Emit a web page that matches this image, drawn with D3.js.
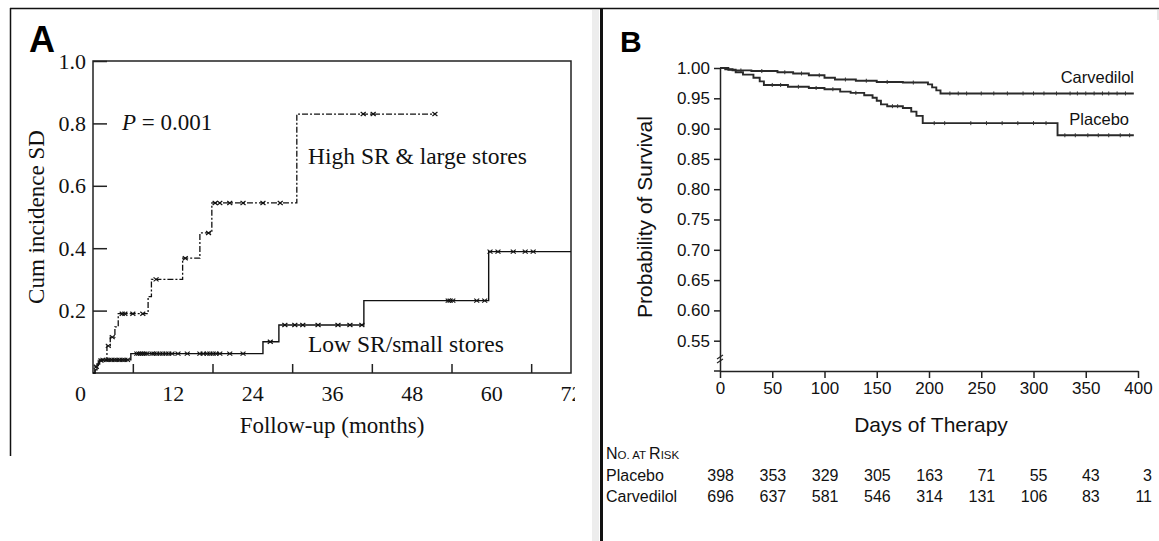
<!DOCTYPE html>
<html>
<head>
<meta charset="utf-8">
<script src="https://cdn.jsdelivr.net/npm/d3@7"></script>
<style>
  html, body { margin: 0; padding: 0; background: #fff; }
  svg { display: block; }
</style>
</head>
<body>
<svg id="fig" width="1159" height="541"></svg>
<script>
// ---------- Panel A: cumulative incidence of SD by follow-up month ----------
const highTimes  = [0, 0.3, 0.8, 2.1, 2.6, 3.3, 3.8, 8.3, 8.8, 13.5, 16.1, 17.9, 30.7];
const highValues = [0, 0.02, 0.04, 0.087, 0.115, 0.148, 0.19, 0.245, 0.30, 0.368, 0.449, 0.545, 0.83];
const highEnd = 51.5;
const highCensor = [0.5, 1.2, 2.3, 2.9, 4.4, 4.8, 6.0, 7.5, 9.5, 13.9, 17.4, 18.4, 19.1, 20.6, 22.6, 25.6, 28.2, 40.7, 42.2, 51.5];

const lowTimes  = [0, 0.3, 0.6, 1.0, 5.7, 25.6, 28.0, 40.8, 59.6];
const lowValues = [0, 0.01, 0.029, 0.042, 0.062, 0.10, 0.154, 0.232, 0.389];
const lowEnd = 72;
const lowCensor = [1.5, 2.0, 2.4, 2.8, 3.2, 3.6, 4.0, 4.4, 4.8, 5.2,
  6.6, 6.9, 7.2, 7.5, 7.8, 8.1, 8.9, 9.2, 9.6, 10.1, 10.5, 11.0, 11.4, 11.9, 12.8, 14.2,
  16.1, 16.6, 17.2, 17.6, 18.1, 18.5, 19.1, 20.6, 22.6, 26.7,
  28.9, 30.4, 31.6, 33.9, 36.9, 38.7, 40.5,
  53.5, 53.8, 54.2, 57.8, 59.0, 59.8, 61.0, 63.3, 65.1, 66.3];

const xTicksA = [0, 12, 24, 36, 48, 60, 72];
const xMinorA = [6, 18, 30, 42, 54, 66];
const yTicksA = [0.2, 0.4, 0.6, 0.8, 1.0];

// ---------- Panel B: Kaplan-Meier survival, carvedilol vs placebo ----------
const carvDays = [0, 5, 12, 30, 55, 70, 85, 100, 110, 130, 150, 175, 199, 203, 207, 211];
const carvSurv = [1.0, 0.998, 0.996, 0.995, 0.993, 0.991, 0.988, 0.984, 0.981, 0.979, 0.977, 0.976, 0.973, 0.968, 0.963, 0.958];
const carvEnd = 396;
const carvCensor = [20, 40, 62, 78, 95, 120, 140, 160, 185, 220, 228, 236, 250, 262, 275, 290, 300, 310, 322, 335, 342, 350, 358, 366, 372, 380, 388];

const placDays = [0, 8, 15, 22, 32, 38, 42, 65, 85, 100, 115, 125, 138, 146, 150, 154, 160, 175, 183, 188, 194, 323];
const placSurv = [1.0, 0.997, 0.993, 0.989, 0.984, 0.978, 0.972, 0.969, 0.967, 0.965, 0.961, 0.959, 0.955, 0.951, 0.946, 0.940, 0.937, 0.934, 0.928, 0.921, 0.909, 0.889];
const placEnd = 396;
const placCensor = [50, 58, 75, 92, 108, 130, 165, 170, 205, 215, 240, 255, 270, 285, 300, 312, 330, 340, 352, 362, 372, 383, 392];

const xTicksB = [0, 50, 100, 150, 200, 250, 300, 350, 400];
const yTicksB = [0.55, 0.60, 0.65, 0.70, 0.75, 0.80, 0.85, 0.90, 0.95, 1.00];

const riskDays = [0, 50, 100, 150, 200, 250, 300, 350, 400];
const riskPlacebo = [398, 353, 329, 305, 163, 71, 55, 43, 3];
const riskCarvedilol = [696, 637, 581, 546, 314, 131, 106, 83, 11];

const serif = "'Liberation Serif', 'Times New Roman', serif";
const sans = "'Liberation Sans', Arial, Helvetica, sans-serif";

const svg = d3.select("#fig");

// step value lookup for censor marks
function stepValue(times, values, t) {
  const i = d3.bisectRight(times, t) - 1;
  return values[Math.max(0, i)];
}
function stepPoints(times, values, end) {
  const pts = times.map((t, i) => [t, values[i]]);
  pts.push([end, values[values.length - 1]]);
  return pts;
}

// ---------- frames ----------
svg.append("line").attr("x1", 10).attr("x2", 1159).attr("y1", 8.5).attr("y2", 8.5)
  .attr("stroke", "#111").attr("stroke-width", 1.5);
svg.append("line").attr("x1", 10.5).attr("x2", 10.5).attr("y1", 8).attr("y2", 456)
  .attr("stroke", "#111").attr("stroke-width", 1.5);
svg.append("rect").attr("x", 592).attr("y", 10).attr("width", 7).attr("height", 531)
  .attr("fill", "#ededed");
svg.append("line").attr("x1", 601.5).attr("x2", 601.5).attr("y1", 8).attr("y2", 541)
  .attr("stroke", "#111").attr("stroke-width", 3);
svg.append("line").attr("x1", 1158).attr("x2", 1158).attr("y1", 10).attr("y2", 20)
  .attr("stroke", "#ccc").attr("stroke-width", 1);

// =================== Panel A ===================
const xA = d3.scaleLinear().domain([0, 72]).range([93, 571]);
const yA = d3.scaleLinear().domain([0, 1]).range([373, 61]);

svg.append("defs").append("clipPath").attr("id", "clipA")
  .append("rect").attr("x", 0).attr("y", 0).attr("width", 575).attr("height", 541);

const gA = svg.append("g");

// plot frame
gA.append("rect").attr("x", xA(0)).attr("y", yA(1)).attr("width", xA(72) - xA(0)).attr("height", yA(0) - yA(1))
  .attr("fill", "none").attr("stroke", "#222").attr("stroke-width", 1.5);

// y axis (ticks point inward)
const yAxisA = gA.append("g").attr("transform", `translate(${xA(0)},0)`)
  .call(d3.axisLeft(yA).tickValues(yTicksA).tickFormat(d3.format(".1f")).tickSizeInner(-14).tickSizeOuter(0).tickPadding(7));
yAxisA.select(".domain").remove();
yAxisA.selectAll("line").attr("stroke", "#222").attr("stroke-width", 1.5);
yAxisA.selectAll("text").attr("font-family", serif).attr("font-size", 22).attr("fill", "#111");

// x axis: minor ticks every 6 months, labelled majors every 12
const xMinor = gA.append("g").attr("transform", `translate(0,${yA(0)})`)
  .call(d3.axisBottom(xA).tickValues(xMinorA).tickFormat("").tickSizeInner(-9).tickSizeOuter(0));
xMinor.select(".domain").remove();
xMinor.selectAll("line").attr("stroke", "#222").attr("stroke-width", 1.5);

const xAxisA = gA.append("g").attr("transform", `translate(0,${yA(0)})`).attr("clip-path", "url(#clipA)")
  .call(d3.axisBottom(xA).tickValues(xTicksA).tickSizeInner(-16).tickSizeOuter(0).tickPadding(12));
xAxisA.select(".domain").remove();
xAxisA.selectAll("line").attr("stroke", "#222").attr("stroke-width", 1.5)
  .filter(d => d === 0 || d === 72).remove();
xAxisA.selectAll("text").attr("font-family", serif).attr("font-size", 22).attr("fill", "#111")
  .attr("dx", d => d === 0 ? -13 : 0);

// curves
const lineA = d3.line().x(d => xA(d[0])).y(d => yA(d[1])).curve(d3.curveStepAfter);
const xMark = "M-2.5,-2L2.5,2M-2.5,2L2.5,-2";

gA.append("path").datum(stepPoints(lowTimes, lowValues, lowEnd))
  .attr("d", lineA).attr("fill", "none").attr("stroke", "#111").attr("stroke-width", 1.4);
gA.append("path").datum(stepPoints(highTimes, highValues, highEnd))
  .attr("d", lineA).attr("fill", "none").attr("stroke", "#111").attr("stroke-width", 1.3)
  .attr("stroke-dasharray", "6,2,2,2");

gA.selectAll(".cLow").data(lowCensor).join("path").attr("class", "cLow")
  .attr("transform", d => `translate(${xA(d)},${yA(stepValue(lowTimes, lowValues, d))})`)
  .attr("d", xMark).attr("stroke", "#111").attr("stroke-width", 1.2);
gA.selectAll(".cHigh").data(highCensor).join("path").attr("class", "cHigh")
  .attr("transform", d => `translate(${xA(d)},${yA(stepValue(highTimes, highValues, d))})`)
  .attr("d", xMark).attr("stroke", "#111").attr("stroke-width", 1.2);

// annotations
const pText = gA.append("text").attr("x", 122).attr("y", 130)
  .attr("font-family", serif).attr("font-size", 23).attr("fill", "#111");
pText.append("tspan").attr("font-style", "italic").text("P");
pText.append("tspan").text(" = 0.001");

gA.append("text").attr("x", 308).attr("y", 164).attr("font-family", serif).attr("font-size", 23.5)
  .attr("fill", "#111").text("High SR & large stores");
gA.append("text").attr("x", 308).attr("y", 352).attr("font-family", serif).attr("font-size", 23.5)
  .attr("fill", "#111").text("Low SR/small stores");

gA.append("text").attr("x", 332).attr("y", 433).attr("text-anchor", "middle")
  .attr("font-family", serif).attr("font-size", 23).attr("fill", "#111").text("Follow-up (months)");
gA.append("text").attr("transform", "translate(44,217) rotate(-90)").attr("text-anchor", "middle")
  .attr("font-family", serif).attr("font-size", 23).attr("fill", "#111").text("Cum incidence SD");

gA.append("text").attr("x", 29).attr("y", 52).attr("font-family", sans).attr("font-weight", "bold")
  .attr("font-size", 36).attr("fill", "#000").text("A");

// =================== Panel B ===================
const xB = d3.scaleLinear().domain([0, 400]).range([720, 1138]);
const yB = d3.scaleLinear().domain([0.5, 1.0]).range([371, 68]);
const gB = svg.append("g");

const yAxisB = gB.append("g").attr("transform", `translate(${xB(0)},0)`)
  .call(d3.axisLeft(yB).tickValues(yTicksB).tickFormat(d3.format(".2f")).tickSizeInner(6).tickSizeOuter(0).tickPadding(4));
yAxisB.selectAll("path,line").attr("stroke", "#222").attr("stroke-width", 1.5);
yAxisB.selectAll("text").attr("font-family", sans).attr("font-size", 17).attr("fill", "#111");

const xAxisB = gB.append("g").attr("transform", `translate(0,${yB(0.5)})`)
  .call(d3.axisBottom(xB).tickValues(xTicksB).tickSizeInner(7).tickSizeOuter(0).tickPadding(4));
xAxisB.selectAll("path,line").attr("stroke", "#222").attr("stroke-width", 1.5);
xAxisB.selectAll("text").attr("font-family", sans).attr("font-size", 17).attr("fill", "#111");
gB.append("line").attr("x1", xB(0) - 6).attr("x2", xB(0)).attr("y1", yB(0.5)).attr("y2", yB(0.5))
  .attr("stroke", "#222").attr("stroke-width", 1.5);

// axis break on the y axis
[yB(0.52) - 2, yB(0.52) + 2].forEach(y => {
  gB.append("line").attr("x1", xB(0) - 3).attr("x2", xB(0) + 3).attr("y1", y + 2).attr("y2", y - 2)
    .attr("stroke", "#222").attr("stroke-width", 1.2);
});

const lineB = d3.line().x(d => xB(d[0])).y(d => yB(d[1])).curve(d3.curveStepAfter);
gB.append("path").datum(stepPoints(placDays, placSurv, placEnd))
  .attr("d", lineB).attr("fill", "none").attr("stroke", "#2a2a2a").attr("stroke-width", 1.9);
gB.append("path").datum(stepPoints(carvDays, carvSurv, carvEnd))
  .attr("d", lineB).attr("fill", "none").attr("stroke", "#2a2a2a").attr("stroke-width", 1.9);

gB.selectAll(".cP").data(placCensor).join("line").attr("class", "cP")
  .attr("x1", d => xB(d)).attr("x2", d => xB(d))
  .attr("y1", d => yB(stepValue(placDays, placSurv, d)) - 2)
  .attr("y2", d => yB(stepValue(placDays, placSurv, d)) + 2)
  .attr("stroke", "#333").attr("stroke-width", 1);
gB.selectAll(".cC").data(carvCensor).join("line").attr("class", "cC")
  .attr("x1", d => xB(d)).attr("x2", d => xB(d))
  .attr("y1", d => yB(stepValue(carvDays, carvSurv, d)) - 2)
  .attr("y2", d => yB(stepValue(carvDays, carvSurv, d)) + 2)
  .attr("stroke", "#333").attr("stroke-width", 1);

gB.append("text").attr("x", 1134).attr("y", 83).attr("text-anchor", "end")
  .attr("font-family", sans).attr("font-size", 16.5).attr("fill", "#111").text("Carvedilol");
gB.append("text").attr("x", 1129).attr("y", 125).attr("text-anchor", "end")
  .attr("font-family", sans).attr("font-size", 16.5).attr("fill", "#111").text("Placebo");

gB.append("text").attr("x", 931).attr("y", 432).attr("text-anchor", "middle")
  .attr("font-family", sans).attr("font-size", 21).attr("fill", "#111").text("Days of Therapy");
gB.append("text").attr("transform", "translate(652,217) rotate(-90)").attr("text-anchor", "middle")
  .attr("font-family", sans).attr("font-size", 21).attr("fill", "#111").text("Probability of Survival");

gB.append("text").attr("x", 620).attr("y", 52).attr("font-family", sans).attr("font-weight", "bold")
  .attr("font-size", 30).attr("fill", "#000").text("B");

// number at risk table
const risk = gB.append("g").attr("font-family", sans).attr("fill", "#111");
const head = risk.append("text").attr("x", 606).attr("y", 459).attr("font-size", 16);
head.append("tspan").text("N");
head.append("tspan").attr("font-size", 11.5).text("O. AT ");
head.append("tspan").text("R");
head.append("tspan").attr("font-size", 11.5).text("ISK");

risk.append("text").attr("x", 606).attr("y", 481).attr("font-size", 16).text("Placebo");
risk.append("text").attr("x", 606).attr("y", 502).attr("font-size", 16).text("Carvedilol");

risk.selectAll(".rp").data(riskDays).join("text").attr("class", "rp")
  .attr("x", d => xB(d) + 14).attr("y", 481).attr("text-anchor", "end").attr("font-size", 16)
  .text((d, i) => riskPlacebo[i]);
risk.selectAll(".rc").data(riskDays).join("text").attr("class", "rc")
  .attr("x", d => xB(d) + 14).attr("y", 502).attr("text-anchor", "end").attr("font-size", 16)
  .text((d, i) => riskCarvedilol[i]);
</script>
</body>
</html>
